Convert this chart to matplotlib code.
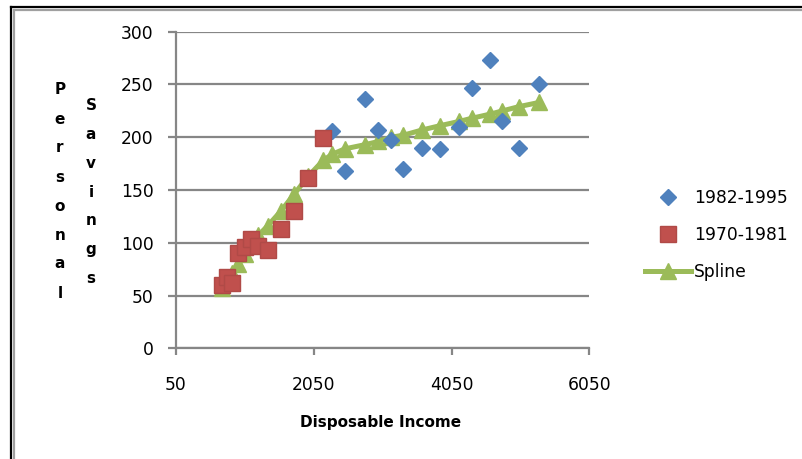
import matplotlib
matplotlib.use("Agg")
import matplotlib.pyplot as plt
from matplotlib.lines import Line2D

# Disposable income vs. personal savings
income_82_95 = [2319, 2503, 2793, 2987, 3171, 3350, 3626, 3882, 4158, 4342, 4613, 4787, 5024, 5319]
savings_82_95 = [206, 168, 236, 207, 197, 170, 190, 189, 210, 247, 273, 215, 190, 250]

income_70_81 = [712, 785, 857, 953, 1050, 1141, 1243, 1379, 1571, 1764, 1967, 2185]
savings_70_81 = [60, 68, 62, 90, 96, 104, 97, 93, 113, 130, 161, 199]

spline_x = [712, 785, 857, 953, 1050, 1141, 1243, 1379, 1571, 1764, 1967, 2185,
            2319, 2499, 2793, 2987, 3171, 3350, 3626, 3882, 4158, 4342, 4613, 4787, 5024, 5319]
spline_y = [57, 64, 71, 80, 89, 98, 107, 116, 130, 146, 163, 178,
            184, 189, 193, 196, 200, 202, 207, 211, 215, 218, 222, 225, 229, 233]

x_ticks = [50, 2050, 4050, 6050]
y_ticks = [0, 50, 100, 150, 200, 250, 300]

BLUE = "#4F81BD"
RED = "#C0504D"
GREEN = "#9BBB59"
GRID = "#868686"

W, H = 803, 459
fig = plt.figure(figsize=(W / 100, H / 100), dpi=100)
fig.patch.set_facecolor("white")

# double frame around the chart area
def fx(px):
    return px / W

def fy(py):
    return 1 - py / H

for (x0, y0, c) in [(11, 7, "black"), (14, 10, "#a0a0a0")]:
    fig.add_artist(Line2D([fx(x0), fx(x0)], [fy(y0), -0.1], color=c, lw=1.6,
                          transform=fig.transFigure))
    fig.add_artist(Line2D([fx(x0), 1.1], [fy(y0), fy(y0)], color=c, lw=1.6,
                          transform=fig.transFigure))

left, right, top, bottom = 176, 589.5, 31.7, 348.4
ax = fig.add_axes([left / W, 1 - bottom / H, (right - left) / W, (bottom - top) / H])

ax.plot(spline_x, spline_y, color=GREEN, lw=3.6, marker="^", ms=11,
        markeredgecolor=GREEN, label="Spline", zorder=2, clip_on=False)
ax.plot(income_82_95, savings_82_95, ls="none", marker="D", ms=8,
        color=BLUE, markeredgecolor=BLUE, label="1982-1995", zorder=3, clip_on=False)
ax.plot(income_70_81, savings_70_81, ls="none", marker="s", ms=12,
        color=RED, markeredgecolor="#b04a47", label="1970-1981", zorder=4, clip_on=False)

ax.set_xlim(50, 6050)
ax.set_ylim(0, 300)
ax.set_xticks(x_ticks)
ax.set_yticks(y_ticks)
ax.set_xticklabels([str(v) for v in x_ticks])
ax.set_yticklabels([str(v) for v in y_ticks])

ax.grid(axis="y", color=GRID, lw=1.6)
ax.set_axisbelow(True)
for s in ["top", "right"]:
    ax.spines[s].set_visible(False)
for s in ["left", "bottom"]:
    ax.spines[s].set_color(GRID)
    ax.spines[s].set_linewidth(1.6)

ax.tick_params(axis="x", length=5, width=1.6, color=GRID, pad=15, labelsize=12.3,
               labelcolor="black")
ax.tick_params(axis="y", length=6, width=1.6, color=GRID, pad=10, labelsize=12.3,
               labelcolor="black")

fig.text(fx(381), fy(423), "Disposable Income", ha="center", va="center",
         fontsize=11, fontweight="bold")

# vertical stacked axis title
def stacked(word, xpx, ytop, step):
    for i, ch in enumerate(word):
        fig.text(fx(xpx), fy(ytop + i * step), ch, ha="center", va="center",
                 fontsize=11, fontweight="bold")

stacked("Personal", 60, 90, 29)
stacked("Savings", 91, 106, 28.7)

handles, labels = ax.get_legend_handles_labels()
order = [1, 2, 0]
leg = ax.legend([handles[i] for i in order], [labels[i] for i in order],
                loc="center left", bbox_to_anchor=(fx(645), fy(235)),
                bbox_transform=fig.transFigure, frameon=False,
                fontsize=12.3, handlelength=2.7, handletextpad=0.15,
                labelspacing=1.1, borderpad=0, borderaxespad=0)

fig.savefig("out.png", dpi=100, facecolor="white")
